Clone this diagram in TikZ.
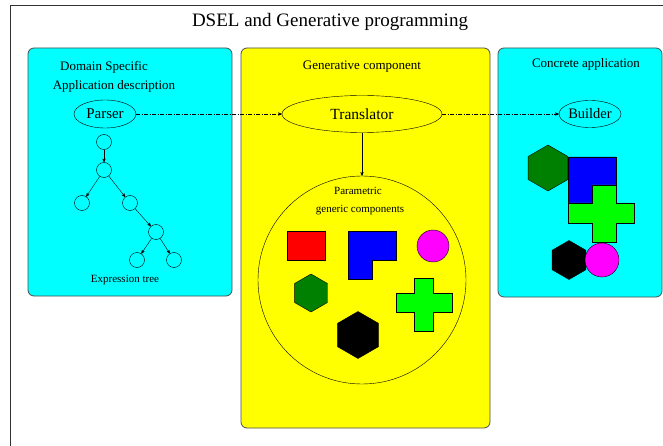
\documentclass[tikz,border=0pt]{standalone}
\usepackage{fontspec}
\setmainfont{Liberation Serif}
\usetikzlibrary{arrows}
\usetikzlibrary{shapes.geometric}
\definecolor{figcyan}{RGB}{0,255,255}
\definecolor{figyellow}{RGB}{255,255,0}
\definecolor{figmagenta}{RGB}{255,0,255}
\definecolor{figgreen}{RGB}{0,255,0}
\definecolor{figdkgreen}{RGB}{0,128,0}
\definecolor{figblue}{RGB}{0,0,255}
\definecolor{figred}{RGB}{255,0,0}

\begin{document}
\begin{tikzpicture}[x=1pt, y=-1pt,
  panel/.style={draw=black!70, line width=.8pt, rounded corners=6pt},
  leaf/.style={circle, draw, inner sep=0, minimum size=15pt},
  oval/.style={ellipse, draw, inner sep=0},
  hexa/.style={regular polygon, regular polygon sides=6, shape border rotate=30, draw, inner sep=0},
  flow/.style={dash pattern=on 4pt off 1.5pt on 1pt off 1.5pt, ->, >=stealth'}]
\useasboundingbox (0,0) rectangle (663,446);
\draw[black!80, line width=1pt] (10,446) -- (10,6) -- (663,6);
\node[font=\fontsize{19}{22}\selectfont] (title) at (330,22) {DSEL and Generative programming};

% the three panels
\draw[panel, fill=figcyan] (28,48) rectangle (232,296);
\draw[panel, fill=figyellow] (241,48) rectangle (490,428);
\draw[panel, fill=figcyan] (498,48) rectangle (662,297);

% domain specific description
\node[font=\fontsize{13}{15}\selectfont] (dsl) at (104,67) {Domain Specific};
\node[font=\fontsize{13}{15}\selectfont] (appdesc) at (114,86) {Application description};
\node[oval, minimum width=62pt, minimum height=28pt, font=\fontsize{15}{17}\selectfont] (parser) at (105,114) {Parser};
\node[leaf] (t1) at (104,142) {};
\node[leaf] (t2) at (104,170) {};
\node[leaf] (t3) at (82,203) {};
\node[leaf] (t4) at (130,203) {};
\node[leaf] (t5) at (156,232) {};
\node[leaf] (t6) at (137,260) {};
\node[leaf] (t7) at (174,260) {};
\foreach \a/\b in {t1/t2, t2/t3, t2/t4, t4/t5, t5/t6, t5/t7}
  \draw[->, >=stealth'] (\a) -- (\b);
\node[font=\fontsize{11}{13}\selectfont] (exprtree) at (125,280) {Expression tree};

% generative component
\node[font=\fontsize{13}{15}\selectfont] (gencomp) at (362,67) {Generative component};
\node[oval, minimum width=160pt, minimum height=37pt, font=\fontsize{15.5}{17}\selectfont] (translator) at (362,114) {Translator};
\node[circle, draw, inner sep=0, minimum size=208pt] (pool) at (362,280) {};
\draw[->, >=stealth'] (translator) -- (pool);
\node[font=\fontsize{11}{13}\selectfont] (param) at (358,191) {Parametric};
\node[font=\fontsize{11}{13}\selectfont] (generic) at (360,210) {generic components};
\draw[fill=figred] (287,231) rectangle (325,260);
\draw[fill=figblue] (348,231) -- (396,231) -- (396,260) -- (372,260) -- (372,279) -- (348,279) -- cycle;
\draw[fill=figmagenta] (433,246) circle (16);
\node[hexa, fill=figdkgreen, minimum size=38pt] (hexA) at (311,293) {};
\node[hexa, fill=black, minimum size=47pt] (hexB) at (358,335) {};
\draw[fill=figgreen] (414,278) -- (433,278) -- (433,293) -- (452,293) -- (452,312) -- (433,312)
  -- (433,331) -- (414,331) -- (414,312) -- (396,312) -- (396,293) -- (414,293) -- cycle;

% concrete application
\node[font=\fontsize{13}{15}\selectfont] (concrete) at (586,64) {Concrete application};
\node[oval, minimum width=62pt, minimum height=27pt, font=\fontsize{14.5}{17}\selectfont] (builder) at (590,114) {Builder};
\draw[fill=figblue] (568,157) -- (616,157) -- (616,186) -- (592,186) -- (592,203) -- (568,203) -- cycle;
\node[hexa, fill=figdkgreen, minimum size=46pt] (hexC) at (548,168) {};
\draw[fill=figgreen] (592,185) -- (616,185) -- (616,203) -- (634,203) -- (634,223) -- (616,223)
  -- (616,242) -- (592,242) -- (592,223) -- (568,223) -- (568,203) -- (592,203) -- cycle;
\node[hexa, fill=black, minimum size=39pt] (hexD) at (569,260) {};
\draw[fill=figmagenta] (602,260) circle (17);

% translation flow
\draw[flow] (parser) -- (translator);
\draw[flow] (translator) -- (builder);
\end{tikzpicture}
\end{document}
